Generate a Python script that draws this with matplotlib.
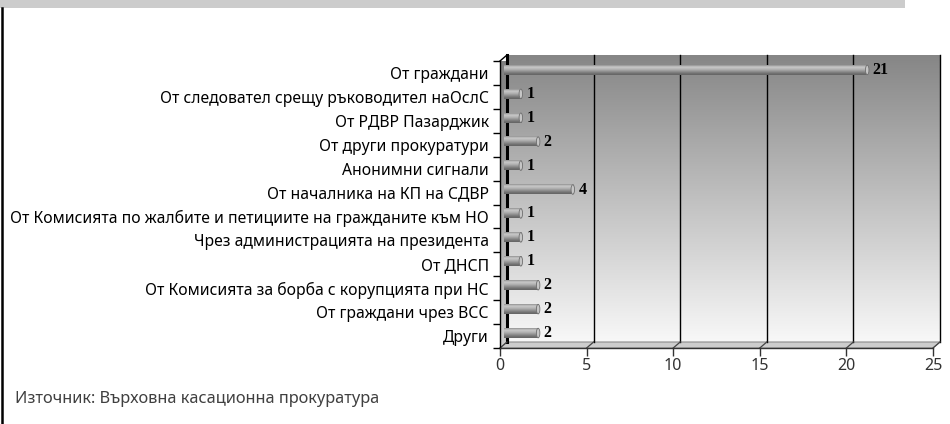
import numpy as np
import matplotlib
matplotlib.use("Agg")
import matplotlib.pyplot as plt
from matplotlib.colors import LinearSegmentedColormap
from matplotlib.patches import Polygon, Ellipse, Rectangle
from matplotlib.transforms import ScaledTranslation

plt.rcParams["font.family"] = ["Noto Sans", "DejaVu Sans"]

categories = [
    "От граждани",
    "От следовател срещу ръководител наОслС",
    "От РДВР Пазарджик",
    "От други прокуратури",
    "Анонимни сигнали",
    "От началника на КП на СДВР",
    "От Комисията по жалбите и петициите на гражданите към НО",
    "Чрез администрацията на президента",
    "От ДНСП",
    "От Комисията за борба с корупцията при НС",
    "От граждани чрез ВСС",
    "Други",
]
counts = [21, 1, 1, 2, 1, 4, 1, 1, 1, 2, 2, 2]
xticks = [0, 5, 10, 15, 20, 25]
source = "Източник: Върховна касационна прокуратура"

W, H, DPI = 950, 424, 100
fig = plt.figure(figsize=(W / DPI, H / DPI), dpi=DPI)

# front plane of the 3-D box, in pixels
x0, x1, y0, y1 = 500, 933, 76, 363
DEPTH_X, DEPTH_Y = 7, 6
ax = fig.add_axes([x0 / W, y0 / H, (x1 - x0) / W, (y1 - y0) / H])
ax.patch.set_visible(False)

dx = DEPTH_X / (x1 - x0)
dy = DEPTH_Y / (y1 - y0)
back = ScaledTranslation(DEPTH_X / DPI, DEPTH_Y / DPI, fig.dpi_scale_trans)
mid = ScaledTranslation(DEPTH_X / 2 / DPI, DEPTH_Y / 2 / DPI, fig.dpi_scale_trans)

# back wall with a vertical grey gradient
grad = np.linspace(0, 1, 256).reshape(-1, 1)
wall_cmap = LinearSegmentedColormap.from_list("wall", ["#f8f8f8", "#c0c0c0", "#868686"])
ax.imshow(grad, cmap=wall_cmap, extent=(dx, 1 + dx, dy, 1 + dy), origin="lower",
          transform=ax.transAxes, aspect="auto", zorder=0, clip_on=False)

# left side wall
side = Polygon([(0, 0), (dx, dy), (dx, 1 + dy), (0, 1)], closed=True,
               transform=ax.transAxes, fc="none", ec="none")
ax.add_patch(side)
side_cmap = LinearSegmentedColormap.from_list("side", ["#cfcfcf", "#7d7d7d"])
im = ax.imshow(grad, cmap=side_cmap, extent=(0, dx, 0, 1 + dy), origin="lower",
               transform=ax.transAxes, aspect="auto", zorder=0.5, clip_on=True)
im.set_clip_path(side)

# floor
ax.add_patch(Polygon([(0, 0), (1, 0), (1 + dx, dy), (dx, dy)], closed=True,
                     transform=ax.transAxes, fc="#cdcdcd", ec="#8c8c8c", lw=0.8,
                     zorder=1, clip_on=False))

# vertical gridlines on the back wall + their floor edges
for t in xticks:
    ax.plot([t, t], [0, 1], transform=ax.get_xaxis_transform() + back,
            color="black", lw=2.2 if t == 0 else 1.0, zorder=1.5, clip_on=False)
    ax.plot([t / 25, t / 25 + dx], [0, dy], transform=ax.transAxes,
            color="#444444", lw=0.9, zorder=1.5, clip_on=False)
ax.plot([0, dx], [1, 1 + dy], transform=ax.transAxes, color="black", lw=1.0,
        zorder=1.5, clip_on=False)

# cylinder bars
n = len(categories)
ypos = np.arange(n)
BH = 0.40
bar_tr = ax.transData + mid
bar_cmap = LinearSegmentedColormap.from_list(
    "bar", ["#909090", "#c8c8c8", "#b6b6b6", "#979797", "#767676", "#626262"])
for y, v in zip(ypos, counts):
    ax.imshow(grad, cmap=bar_cmap, extent=(0, v, y + BH / 2, y - BH / 2), origin="upper",
              transform=bar_tr, aspect="auto", zorder=3, clip_on=False)
    ax.add_patch(Ellipse((v, y), width=0.2, height=BH, transform=bar_tr,
                         fc="#c6c6c6", ec="#6e6e6e", lw=0.6, zorder=3.5, clip_on=False))
    ax.text(v, y, str(v), transform=ax.transData + ScaledTranslation(0.09, 0.03, fig.dpi_scale_trans),
            ha="left", va="center", fontsize=11.5, fontweight="bold",
            family=["Liberation Serif", "DejaVu Serif"], zorder=4)

ax.set_xlim(0, 25)
ax.set_ylim(n - 0.5, -0.5)

# axes, ticks
for s in ("top", "right"):
    ax.spines[s].set_visible(False)
ax.spines["left"].set_color("black")
ax.spines["left"].set_linewidth(1.0)
ax.spines["bottom"].set_color("#333333")
ax.spines["bottom"].set_linewidth(1.0)
ax.set_xticks(xticks)
ax.set_xticklabels([str(t) for t in xticks])
ax.tick_params(axis="x", length=6, width=1, color="#333333", pad=1,
               labelsize=11.5, labelcolor="#333333")
ax.set_yticks(ypos)
ax.set_yticklabels(categories)
ax.set_yticks(np.arange(n + 1) - 0.5, minor=True)
ax.tick_params(axis="y", which="major", length=0, pad=8, labelsize=11.3, labelcolor="black")
ax.tick_params(axis="y", which="minor", length=5, width=1, color="black")

# page decorations: grey band on top, rule on the left
fig.add_artist(Rectangle((0, 416 / H), 905 / W, 8 / H, transform=fig.transFigure,
                         fc="#cccccc", ec="none"))
fig.add_artist(plt.Line2D([2 / W, 2 / W], [0, 416 / H], transform=fig.transFigure,
                          color="black", lw=1.8))

fig.text(15 / W, 1 - 399 / H, source, ha="left", va="center", fontsize=11.8, color="#404040")

fig.savefig("out.png", dpi=DPI)
